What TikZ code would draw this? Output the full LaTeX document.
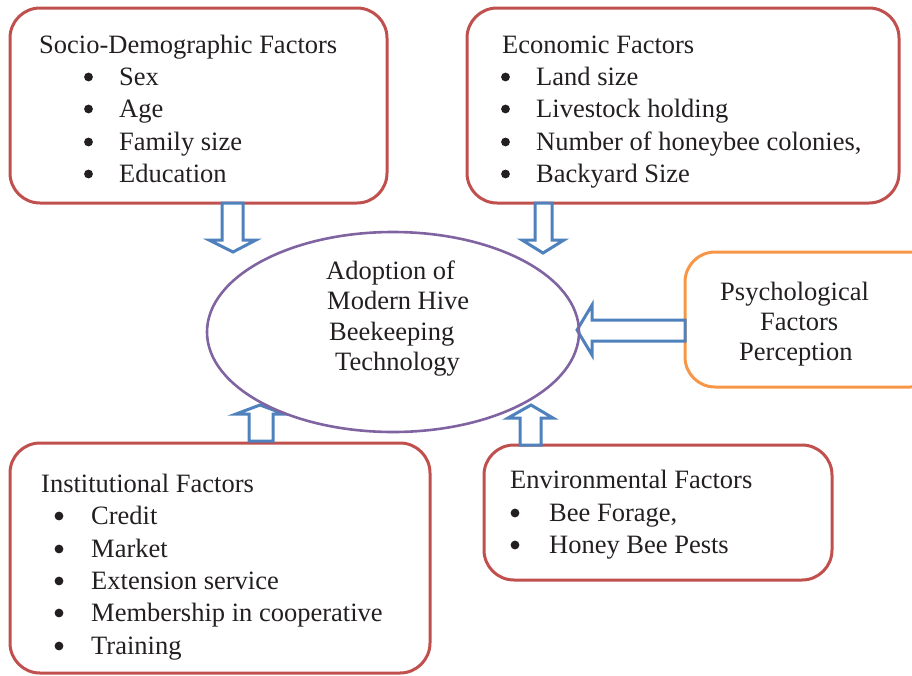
\documentclass[tikz,border=0pt]{standalone}
\usepackage{fontspec}
\setmainfont{Liberation Serif}
\definecolor{boxred}{HTML}{C0504D}
\definecolor{boxorange}{HTML}{F79646}
\definecolor{arrblue}{HTML}{4F81BD}
\definecolor{ellpurple}{HTML}{8064A2}
\definecolor{txt}{HTML}{231F20}
\begin{document}
\begin{tikzpicture}[x=1pt,y=-1pt,
  redbox/.style={draw=boxred,line width=3pt,rounded corners=30pt},
  orangebox/.style={draw=boxorange,line width=3pt,rounded corners=30pt},
  blockarrow/.style={draw=arrblue,fill=white,line width=3pt,line join=miter},
  lbl/.style={anchor=base west,inner sep=0pt,text=txt,font=\fontsize{26.5}{32}\selectfont},
  dot/.style={fill=txt,draw=none}]
\useasboundingbox (0,0) rectangle (912,675);
\clip (0,0) rectangle (912,675);
% boxes
\draw[redbox] (10,8) rectangle (387,203);
\draw[redbox] (467,8) rectangle (899,203);
\draw[orangebox] (685,252) rectangle (940,387);
\draw[redbox] (10,443) rectangle (430,673);
\draw[redbox] (484,445) rectangle (832,580);
% block arrows
\draw[blockarrow] (222,203) -- (243,203) -- (243,240) -- (256,240) -- (233,252) -- (209,240) -- (222,240) -- cycle;
\draw[blockarrow] (535,203) -- (552,203) -- (552,240) -- (564,240) -- (543,253) -- (522,240) -- (535,240) -- cycle;
\draw[blockarrow] (685,320) -- (685,341) -- (592,341) -- (592,355) -- (577,330) -- (592,305) -- (592,320) -- cycle;
\draw[blockarrow] (249,441) -- (273,441) -- (273,414) -- (284,414) -- (260,405) -- (236,414) -- (249,414) -- cycle;
\draw[blockarrow] (520,445) -- (541,445) -- (541,418) -- (553,418) -- (531,405) -- (508,418) -- (520,418) -- cycle;
% ellipse
\draw[ellpurple,line width=2.6pt] (393,332) ellipse [x radius=186pt, y radius=100pt];
% socio-demographic
\node[lbl] (sdh) at (39,53) {Socio-Demographic Factors};
\foreach \y/\t [count=\i] in {85/Sex,117/Age,150/Family size,182/Education}{
  \fill[dot] (88.5,\y-8) circle (4.4pt);
  \node[lbl] (sd\i) at (119,\y) {\t};
}
% economic
\node[lbl] (ech) at (502,53) {Economic Factors};
\foreach \y/\t [count=\i] in {85/Land size,117/Livestock holding,150/{Number of honeybee colonies,},182/Backyard Size}{
  \fill[dot] (505.5,\y-8) circle (4.4pt);
  \node[lbl] (ec\i) at (536,\y) {\t};
}
% centre
\node[lbl] (c1) at (326,279) {Adoption of};
\node[lbl] (c2) at (327,309) {Modern Hive};
\node[lbl] (c3) at (329,340) {Beekeeping};
\node[lbl] (c4) at (335,370) {Technology};
% psychological
\node[lbl] (p1) at (720,300) {Psychological};
\node[lbl] (p2) at (760,330) {Factors};
\node[lbl] (p3) at (739,360) {Perception};
% institutional
\node[lbl] (inh) at (41,492) {Institutional Factors};
\foreach \y/\t [count=\i] in {524/Credit,557/Market,589/Extension service,621/Membership in cooperative,654/Training}{
  \fill[dot] (59,\y-8) circle (4.4pt);
  \node[lbl] (in\i) at (91,\y) {\t};
}
% environmental
\node[lbl] (enh) at (510,488) {Environmental Factors};
\foreach \y/\t [count=\i] in {521/{Bee Forage,},553/Honey Bee Pests}{
  \fill[dot] (515,\y-8) circle (4.4pt);
  \node[lbl] (en\i) at (549,\y) {\t};
}
\end{tikzpicture}
\end{document}
